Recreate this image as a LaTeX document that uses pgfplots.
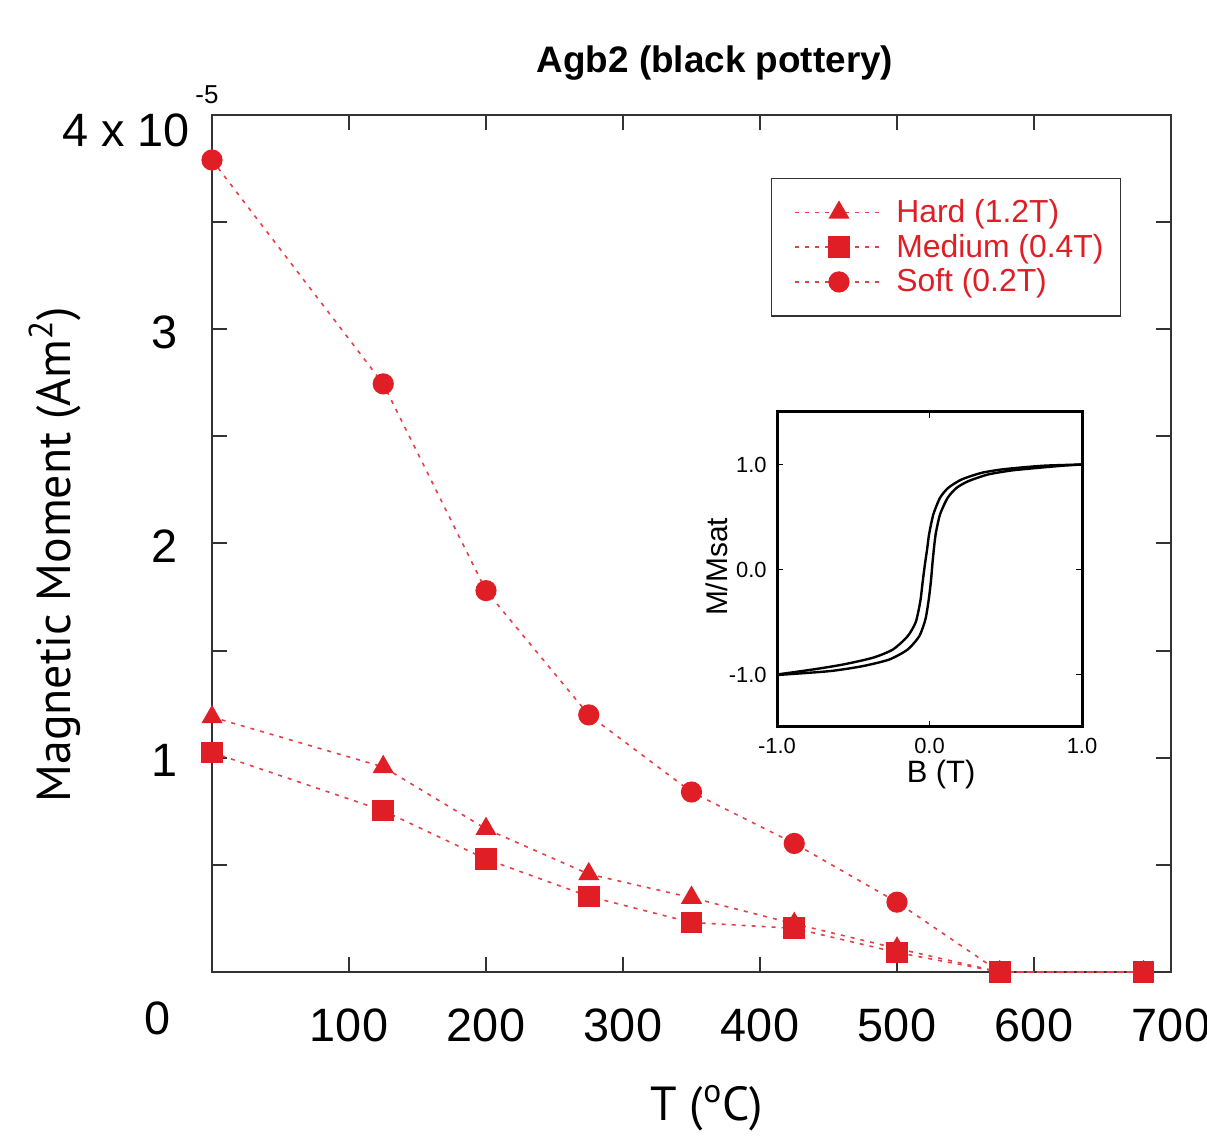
\documentclass[border=0pt]{standalone}
\usepackage{pgfplots}
\pgfplotsset{compat=1.18}
\usepackage{fontspec}
\setmainfont{Liberation Sans}
\newfontfamily\myr{PT Sans}
\definecolor{myred}{RGB}{224,30,38}
\tikzset{redline/.style={color=myred!85, line width=0.8bp, dash pattern=on 2bp off 3bp}}
\begin{document}
\begin{tikzpicture}
\path[use as bounding box] (0,0) rectangle (603.5bp,568bp);
\begin{axis}[
  at={(106bp,82bp)}, anchor=south west,
  width=479.5bp, height=428.5bp, scale only axis,
  xmin=0, xmax=700, ymin=0, ymax=4,
  clip=false,
  xtick={100,200,300,400,500,600,700},
  xticklabels={100,200,300,400,500,600,700},
  ytick={0.5,1,1.5,2,2.5,3,3.5},
  yticklabels={,1,,2,,3,},
  /pgf/number format/assume math mode=true,
  tick align=inside,
  major tick length=7.5bp,
  axis line style={line width=1bp, draw=black!80},
  every tick/.style={line width=1bp, black!80},
  xticklabel style={font=\fontsize{23.5}{27}\selectfont, anchor=center, yshift=-26.5bp, inner sep=0pt},
  yticklabel style={font=\fontsize{23.5}{27}\selectfont, anchor=east, xshift=-17bp, yshift=-1.5bp, inner sep=0pt},
  title={\bfseries Agb2 (black pottery)},
  title style={at={(axis description cs:0.5245,1.064)}, anchor=center, yshift=-7.5bp, font=\fontsize{18.5}{22}\selectfont},
  ylabel={\myr Magnetic Moment (Am\textsuperscript{2})},
  ylabel style={at={(axis description cs:-0.164,0.487)}, anchor=center, font=\fontsize{24}{28}\selectfont},
  xlabel={\myr T (\textsuperscript{o}C)},
  xlabel style={at={(axis description cs:0.516,-0.159)}, anchor=center, font=\fontsize{24}{28}\selectfont},
  legend style={at={(0.948,0.9265)}, anchor=north east, draw=black!80, line width=0.6bp,
    font=\fontsize{16}{19}\selectfont, text=myred, inner xsep=6.5bp, inner ysep=8.5bp,
    row sep=0.3bp, cells={anchor=west}},
  legend image code/.code={\path (-5bp,0bp) (48bp,0bp);\draw[mark repeat=2,mark phase=2] plot coordinates {(0bp,0bp)(21.75bp,0bp)(43.5bp,0bp)};},
]
\addplot[redline, mark=triangle*, mark size=5.3bp, mark options={solid, fill=myred, draw=myred}] coordinates {
 (0,1.19) (125,0.957) (200,0.668) (275,0.457) (350,0.347) (425,0.225) (500,0.11) (575,0) (680,0)};
\addlegendentry{Hard (1.2T)}
\addplot[redline, mark=square*, mark size=5bp, mark options={solid, fill=myred, draw=myred}] coordinates {
 (0,1.025) (125,0.753) (200,0.527) (275,0.353) (350,0.231) (425,0.204) (500,0.091) (575,0) (680,0)};
\addlegendentry{Medium (0.4T)}
\addplot[redline, mark=*, mark size=4.9bp, mark options={solid, fill=myred, draw=myred}] coordinates {
 (0,3.79) (125,2.745) (200,1.78) (275,1.2) (350,0.84) (425,0.60) (500,0.326) (575,0) (680,0)};
\addlegendentry{Soft (0.2T)}
\end{axis}

\begin{axis}[
  at={(388.5bp,204.5bp)}, anchor=south west,
  width=152.5bp, height=157.5bp, scale only axis,
  xmin=-1, xmax=1, ymin=-1.5, ymax=1.5,
  xtick={-1,0,1}, ytick={-1,0,1},
  xticklabels={-1.0,0.0,1.0}, yticklabels={-1.0,0.0,1.0},
  tick align=inside, major tick length=3bp,
  axis line style={line width=1.5bp, draw=black},
  every tick/.style={line width=0.8bp, black},
  axis background/.style={fill=white},
  xticklabel style={font=\fontsize{11}{13}\selectfont, anchor=center, yshift=-9.5bp, inner sep=0pt},
  yticklabel style={font=\fontsize{11}{13}\selectfont, anchor=east, xshift=-5bp, inner sep=0pt},
  xlabel={B (T)},
  xlabel style={at={(axis description cs:0.538,-0.152)}, anchor=center, font=\fontsize{15.5}{18}\selectfont},
  ylabel={M/Msat},
  ylabel style={at={(axis description cs:-0.197,0.508)}, anchor=center, font=\fontsize{15}{18}\selectfont},
]
\addplot[black, line width=1.2bp, smooth, tension=0.4] coordinates {
 (-1.0,-1.0) (-0.763,-0.952) (-0.567,-0.905) (-0.37,-0.84) (-0.24,-0.762) (-0.143,-0.635)
 (-0.09,-0.5) (-0.06,-0.3) (-0.045,-0.12) (-0.03,0.05) (-0.015,0.2) (-0.003,0.333)
 (0.025,0.524) (0.069,0.683) (0.123,0.778) (0.21,0.857) (0.34,0.92) (0.47,0.952)
 (0.62,0.974) (0.77,0.99) (1.0,1.0)};
\addplot[black, line width=1.2bp, smooth, tension=0.4] coordinates {
 (-1.0,-1.005) (-0.655,-0.968) (-0.437,-0.92) (-0.263,-0.857) (-0.143,-0.762) (-0.067,-0.635)
 (-0.027,-0.476) (-0.005,-0.286) (0.01,-0.1) (0.022,0.1) (0.04,0.333) (0.069,0.524)
 (0.119,0.683) (0.178,0.778) (0.254,0.841) (0.384,0.905) (0.537,0.943) (0.711,0.968)
 (0.886,0.99) (1.0,1.0)};
\end{axis}

\node[anchor=center, font=\fontsize{23.5}{27}\selectfont, inner sep=0pt] at (79bp,59bp) {0};
\node[anchor=east, font=\fontsize{23.5}{27}\selectfont, inner sep=0pt] at (95bp,503bp) {4 x 10};
\node[anchor=center, font=\fontsize{13}{15}\selectfont, inner sep=0pt] at (103.5bp,520.5bp) {-5};
\end{tikzpicture}
\end{document}
